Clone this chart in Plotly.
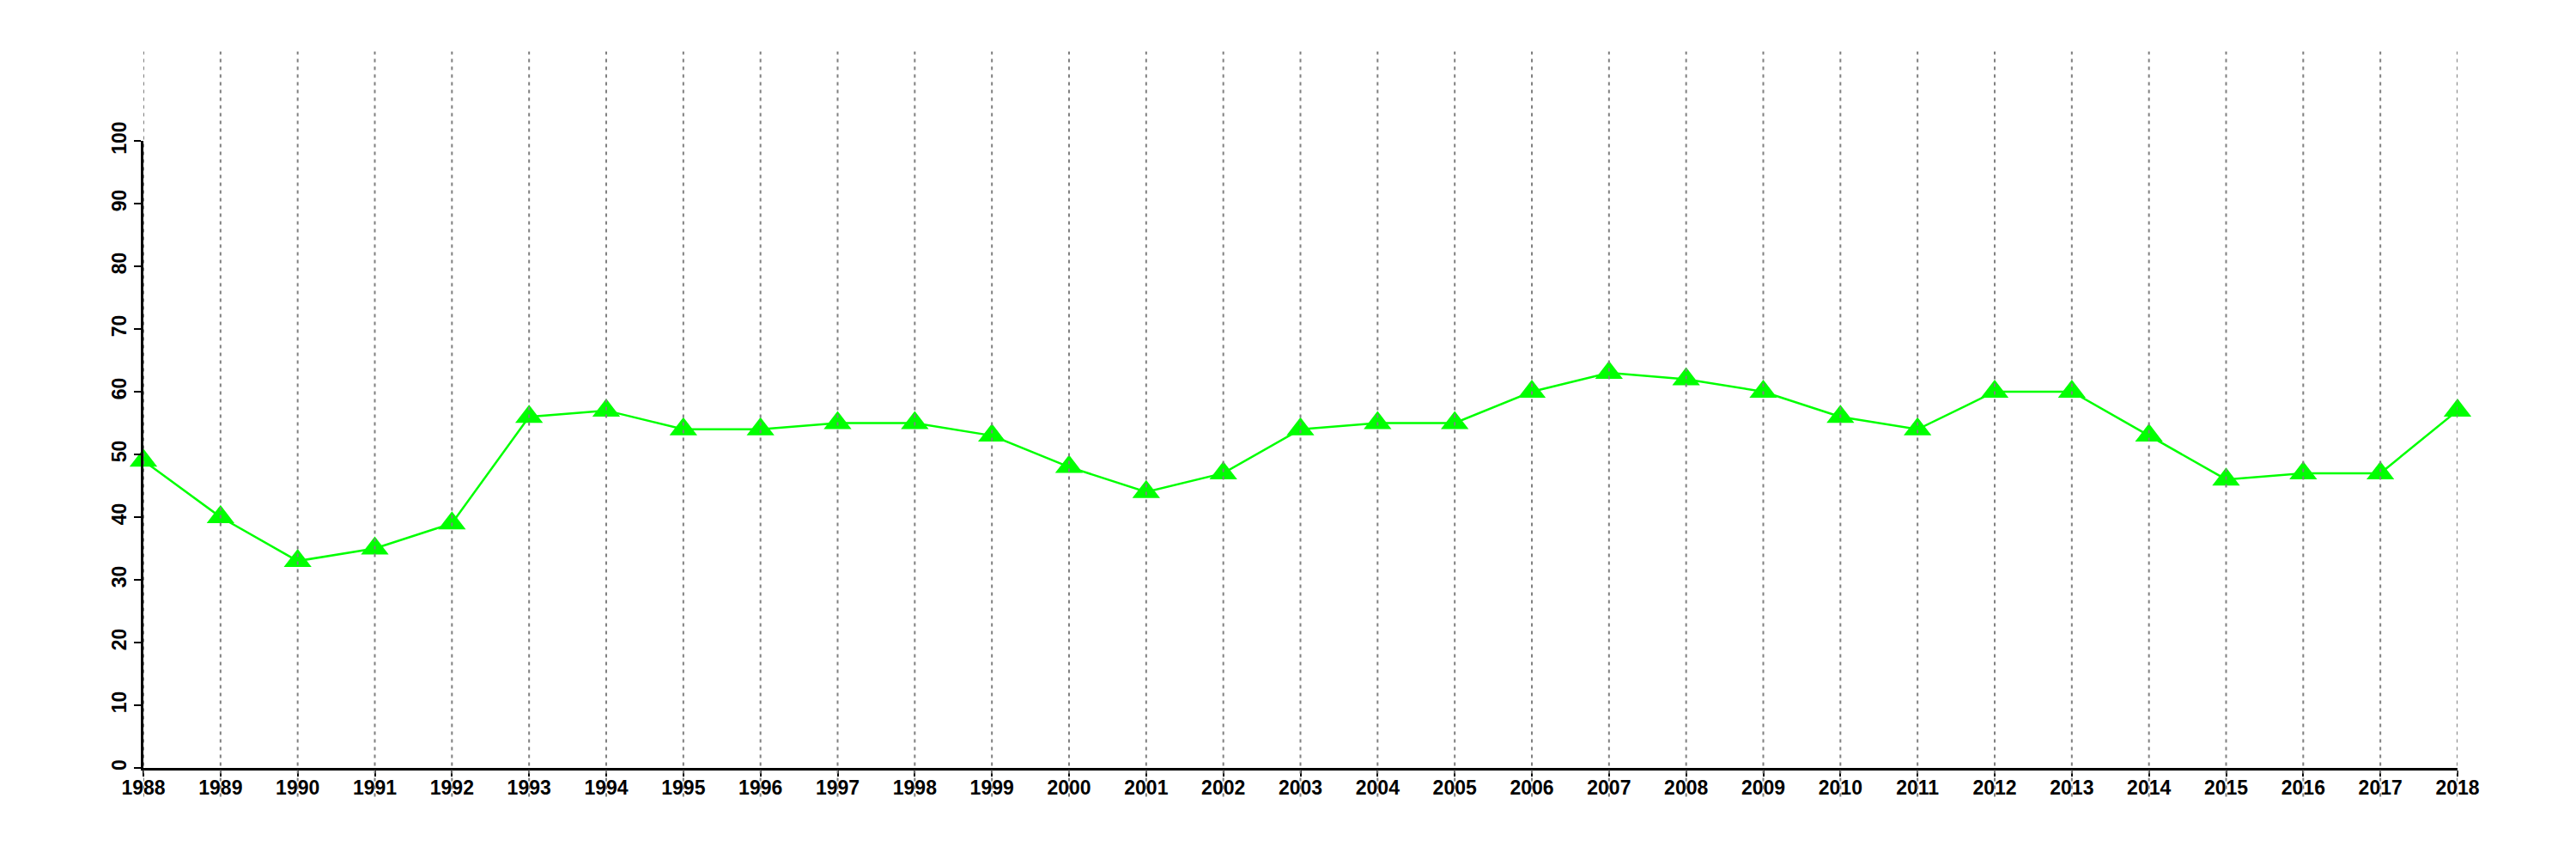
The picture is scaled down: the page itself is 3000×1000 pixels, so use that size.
import plotly.graph_objects as go

years = list(range(1988, 2019))
values = [49, 40, 33, 35, 39, 56, 57, 54, 54, 55, 55, 53, 48, 44, 47, 54,
          55, 55, 60, 63, 62, 60, 56, 54, 60, 60, 53, 46, 47, 47, 57]
y_ticks = [0, 10, 20, 30, 40, 50, 60, 70, 80, 90, 100]

FONT = "Liberation Sans, Arial, Helvetica, sans-serif"

fig = go.Figure()
fig.add_trace(go.Scatter(
    x=years, y=values, mode="lines+markers",
    line=dict(color="#00ff00", width=2.5),
    marker=dict(symbol="triangle-up", size=28, color="#00ff00"),
    cliponaxis=False, showlegend=False, hoverinfo="x+y",
))

shapes = []
for yr in years:
    shapes.append(dict(
        type="line", xref="x", yref="paper", x0=yr, x1=yr, y0=-0.046, y1=1.1425,
        line=dict(color="#808080", width=2, dash="4px,5px"), layer="above",
    ))

fig.update_layout(
    width=2992, height=992,
    margin=dict(l=159, r=138, t=156, b=106, autoexpand=False),
    paper_bgcolor="white", plot_bgcolor="white",
    shapes=shapes,
    font=dict(family=FONT, size=23, color="black"),
    xaxis=dict(
        range=[1988, 2018], tickmode="array", tickvals=years,
        ticktext=[f"<b>{y}</b>" for y in years], automargin=False,
        showgrid=False, zeroline=False, showline=True, linecolor="black",
        linewidth=2.5, ticks="outside", ticklen=7, tickwidth=2, tickcolor="black",
        ticklabelstandoff=-6,
    ),
    yaxis=dict(
        range=[0, 100], tickmode="array", tickvals=y_ticks, automargin=False,
        ticktext=[f"<b>{v}</b>" for v in y_ticks], tickangle=-90,
        showgrid=False, zeroline=False, showline=True, linecolor="black",
        linewidth=2.5, ticks="outside", ticklen=8, tickwidth=2, tickcolor="black",
    ),
)

fig.write_html("out.html")
